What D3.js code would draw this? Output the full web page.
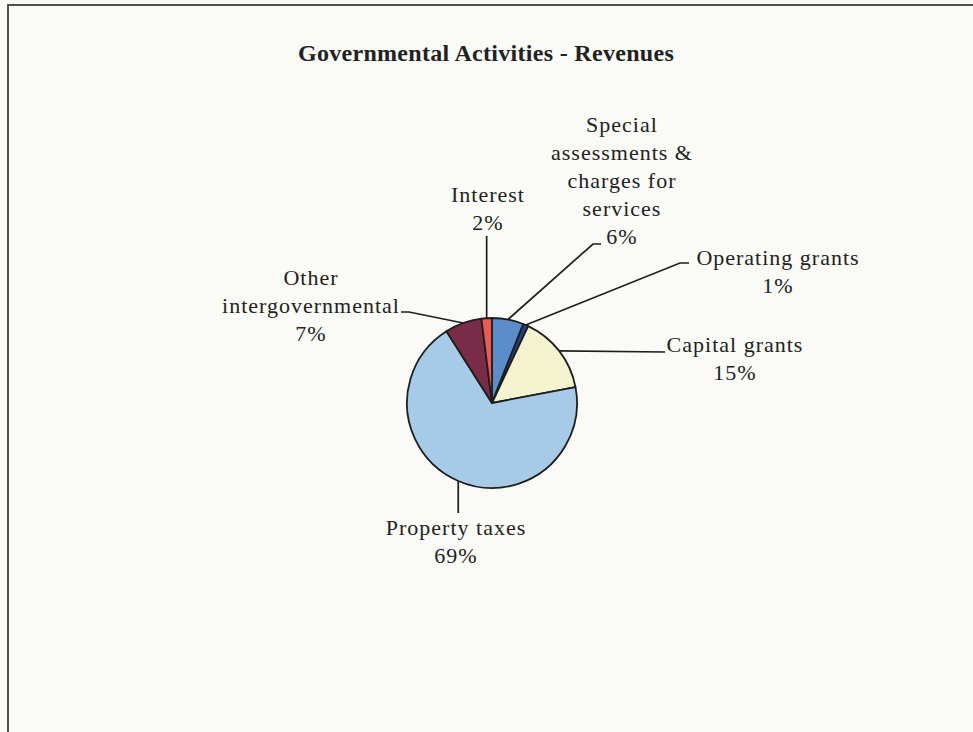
<!DOCTYPE html>
<html>
<head>
<meta charset="utf-8">
<script src="https://cdn.jsdelivr.net/npm/d3@7"></script>
<style>
  html, body { margin: 0; padding: 0; background: #fafaf7; }
  svg { display: block; }
</style>
</head>
<body>
<svg id="chart" width="973" height="732"></svg>
<script>
// Revenue sources, clockwise from 12 o'clock
const categories = [
  "Special assessments & charges for services",
  "Operating grants",
  "Capital grants",
  "Property taxes",
  "Other intergovernmental",
  "Interest"
];
const shares = [6, 1, 15, 69, 7, 2];   // percent of total revenues

// How each category name is broken across lines in its label
const labelLines = [
  ["Special", "assessments &", "charges for", "services"],
  ["Operating grants"],
  ["Capital grants"],
  ["Property taxes"],
  ["Other", "intergovernmental"],
  ["Interest"]
];

const sliceColors = ["#5a8dca", "#22407a", "#f3f4cf", "#a7cae7", "#782c48", "#ea5a50"];

// Label placement: text centre x, first baseline y, leader bend/end points
const labelLayout = [
  { x: 622, y: 132, leader: [[593, 244], [601, 244]] },
  { x: 778, y: 265, leader: [[680, 263], [689, 263]] },
  { x: 735, y: 352, leader: [[665, 352]] },
  { x: 456, y: 535, leader: [[null, 513]] },
  { x: 311, y: 285, leader: [[409, 312], [401, 312]] },
  { x: 488, y: 202, leader: [[null, 236]] }
];

const W = 973, H = 732;
const cx = 492, cy = 403, R = 85;
const lineGap = 28;

const svg = d3.select("#chart");

svg.append("rect").attr("width", W).attr("height", H).attr("fill", "#fafaf7");

// frame edges
svg.append("line").attr("x1", 8).attr("x2", W).attr("y1", 5).attr("y2", 5)
  .attr("stroke", "#505050").attr("stroke-width", 2);
svg.append("line").attr("x1", 8).attr("x2", 8).attr("y1", 4).attr("y2", H)
  .attr("stroke", "#505050").attr("stroke-width", 2);

svg.append("text")
  .attr("x", 486).attr("y", 61)
  .attr("text-anchor", "middle")
  .attr("font-family", "'Liberation Serif', 'Times New Roman', serif")
  .attr("font-weight", "bold")
  .attr("font-size", 24)
  .attr("letter-spacing", 0.3)
  .attr("fill", "#222")
  .text("Governmental Activities - Revenues");

const data = categories.map((c, i) => ({ name: c, value: shares[i], i }));

const pie = d3.pie().value(d => d.value).sort(null).startAngle(0).endAngle(2 * Math.PI);
const arcs = pie(data);

const arc = d3.arc().innerRadius(0).outerRadius(R);
const rim = d3.arc().innerRadius(R).outerRadius(R);

const g = svg.append("g").attr("transform", `translate(${cx},${cy})`);

g.selectAll("path.slice")
  .data(arcs)
  .join("path")
  .attr("class", "slice")
  .attr("d", arc)
  .attr("fill", d => sliceColors[d.data.i])
  .attr("stroke", "#1e1e1e")
  .attr("stroke-width", 1.8)
  .attr("stroke-linejoin", "round");

// leader lines from each slice's rim midpoint to its label
const line = d3.line();
arcs.forEach(a => {
  const [sx, sy] = rim.centroid(a);
  const start = [cx + sx, cy + sy];
  const pts = [start].concat(labelLayout[a.data.i].leader.map(p => [p[0] === null ? start[0] : p[0], p[1]]));
  svg.append("path")
    .attr("d", line(pts))
    .attr("fill", "none")
    .attr("stroke", "#1e1e1e")
    .attr("stroke-width", 1.7);
});

// data labels: category name lines followed by the percentage
arcs.forEach(a => {
  const L = labelLayout[a.data.i];
  const lines = labelLines[a.data.i].concat([`${a.data.value}%`]);
  const t = svg.append("text")
    .attr("text-anchor", "middle")
    .attr("font-family", "'Liberation Serif', 'Times New Roman', serif")
    .attr("font-size", 22)
    .attr("letter-spacing", 1)
    .attr("fill", "#222");
  lines.forEach((s, k) => {
    t.append("tspan").attr("x", L.x).attr("y", L.y + k * lineGap).text(s);
  });
});
</script>
</body>
</html>
